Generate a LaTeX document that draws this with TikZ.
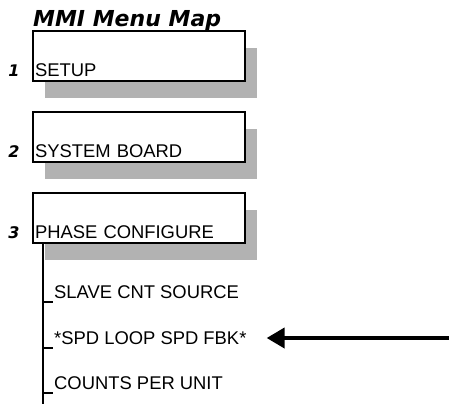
\documentclass[tikz,border=0pt]{standalone}
\usepackage{fontspec}
\setmainfont{Liberation Sans}
\newfontfamily\headfont{DejaVu Sans}
\usepackage{tikz}
\usetikzlibrary{positioning,arrows.meta,shadows}

\begin{document}
\begin{tikzpicture}[
    x=1pt, y=-1pt,
    node distance=29pt,
    every node/.style={font=\fontsize{18.4}{20}\selectfont},
    menubox/.style={draw, line width=2pt, fill=white, anchor=south west,
      text width=208pt, align=left, text height=44pt, text depth=4pt,
      inner xsep=2pt, inner ysep=1pt,
      drop shadow={shadow xshift=12pt, shadow yshift=-17pt, fill=black!30, opacity=1}},
    num/.style={font=\headfont\bfseries\itshape\fontsize{16}{18}\selectfont, anchor=base},
    title/.style={font=\headfont\bfseries\itshape\fontsize{22}{24}\selectfont, anchor=base west, inner sep=0pt},
    item/.style={anchor=base west, inner sep=0pt},
    tree/.style={line width=2pt},
    twig/.style={line width=1.5pt},
    pointer/.style={-{Triangle[length=18pt, width=20pt]}, line width=4pt}
  ]
  \useasboundingbox (0,0) rectangle (449,404);

  % --- Heading ---
  \node[title] (ttl) at (33,27) {MMI Menu Map};

  % --- Top level menus ---
  \node[menubox] (s1) at (32,82) {SETUP};
  \node[menubox, below=of s1.south west, anchor=north west] (s2) {SYSTEM BOARD};
  \node[menubox, below=of s2.south west, anchor=north west] (s3) {PHASE CONFIGURE};

  \node[num, xshift=-18pt] (n1) at (s1.base west) {1};
  \node[num, xshift=-18pt] (n2) at (s2.base west) {2};
  \node[num, xshift=-18pt] (n3) at (s3.base west) {3};

  % --- Sub menu under PHASE CONFIGURE ---
  \coordinate (trunk) at ([xshift=11pt]s3.south west);
  \coordinate (trunkend) at (trunk |- 0,404);
  \node[item] (i1) at (54,298) {SLAVE CNT SOURCE};
  \node[item] (i2) at (54,344) {*SPD LOOP SPD FBK*};
  \node[item] (i3) at (54,389) {COUNTS PER UNIT};

  \draw[tree] (trunk) -- (trunkend);
  \foreach \i in {i1,i2,i3}
    \draw[twig] ([yshift=-4pt]\i.base west -| trunk) -- ([xshift=-1pt,yshift=-4pt]\i.base west);

  % --- Pointer to selected item ---
  \coordinate (tail) at (449,338);
  \draw[pointer, shorten >=20pt] (tail) -- (i2.east |- tail);

\end{tikzpicture}
\end{document}
